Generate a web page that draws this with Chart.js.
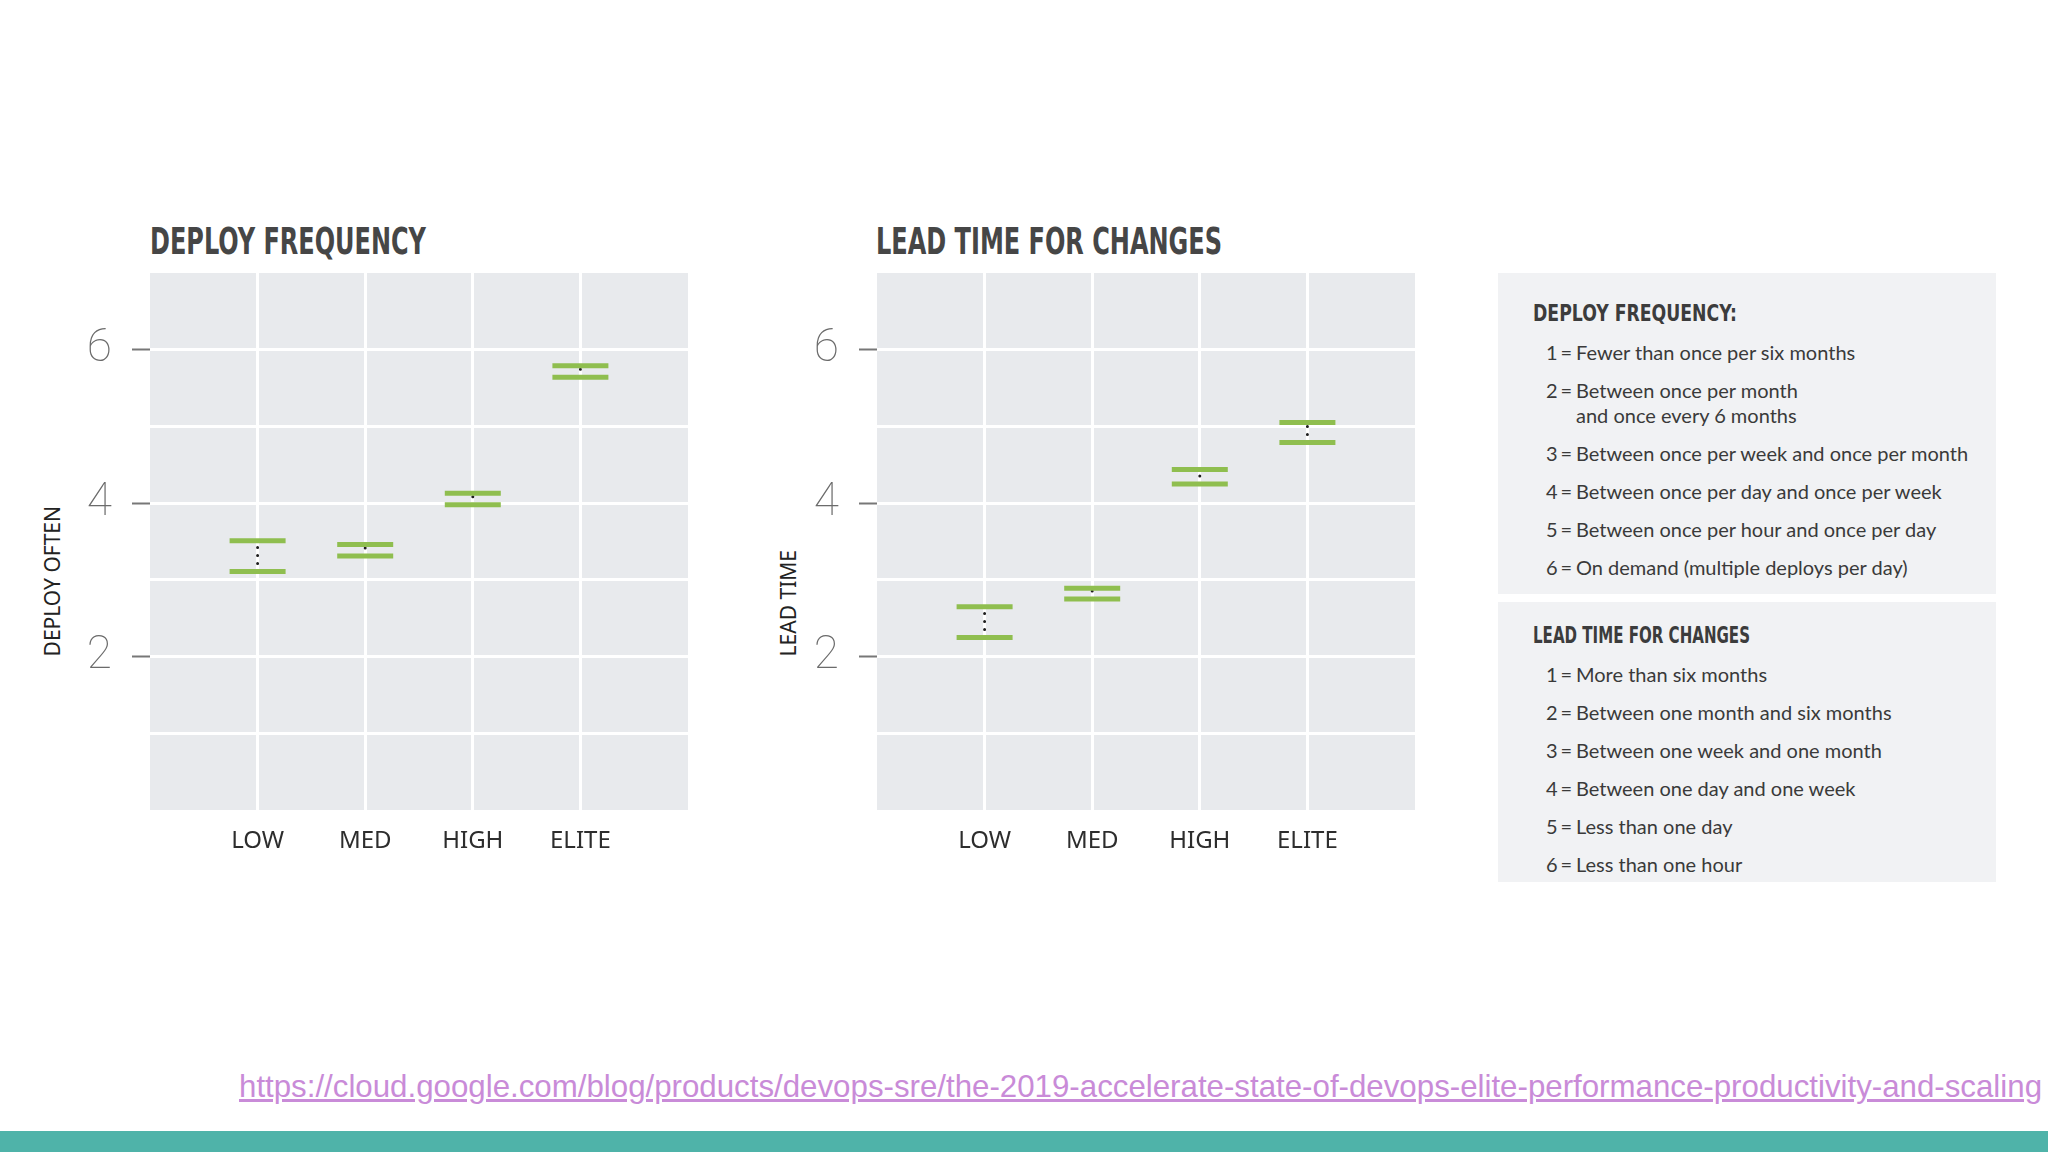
<!DOCTYPE html>
<html>
<head>
<meta charset="utf-8">
<script src="https://cdn.jsdelivr.net/npm/chart.js@4"></script>
<style>
  body { margin: 0; width: 2048px; height: 1152px; background: #fff; position: relative; overflow: hidden; font-family: 'Lato', 'Noto Sans', sans-serif; }
  canvas { position: absolute; }
  .title { position: absolute; font-family: 'DejaVu Sans Condensed', 'DejaVu Sans', sans-serif; font-weight: bold; color: #464646; white-space: nowrap; transform-origin: left center; line-height: 1; }
  .axis-title { position: absolute; font-family: 'Noto Sans', sans-serif; font-size: 21px; color: #222; writing-mode: vertical-rl; transform: rotate(180deg); white-space: nowrap; line-height: 24px; }
  .box { position: absolute; left: 1498px; width: 498px; background: #f1f2f4; box-sizing: border-box; padding-left: 35px; }
  .box h3 { margin: 0; height: 30px; line-height: 30px; font-family: 'DejaVu Sans Condensed', sans-serif; font-weight: bold; font-size: 23px; color: #3c3c3c; white-space: nowrap; display: inline-block; transform-origin: left center; }
  .item { display: flex; margin-left: 13px; font-size: 20px; line-height: 25px; color: #3a3a3a; margin-top: 13px; }
  .item .num { width: 30px; flex: none; white-space: nowrap; }
  .item .num span { margin-left: 3px; }
  #url { position: absolute; left: 239px; top: 1067px; font-family: 'Liberation Sans', Arial, sans-serif; font-size: 32px; color: #c98bd8; text-decoration: underline; white-space: nowrap; line-height: 40px; }
  #band { position: absolute; left: 0; top: 1131px; width: 2048px; height: 21px; background: #4fb3a9; }
</style>
</head>
<body>
<div class="title" id="t1" style="left:150px; top:223px; font-size:37px;">DEPLOY FREQUENCY</div>
<div class="title" id="t2" style="left:876px; top:223px; font-size:37px;">LEAD TIME FOR CHANGES</div>
<div class="axis-title" style="left:40px; bottom:496px;">DEPLOY OFTEN</div>
<div class="axis-title" style="left:776px; bottom:496px;">LEAD TIME</div>
<canvas id="deployChart" width="700" height="620" style="left:0px; top:260px;"></canvas>
<canvas id="leadChart" width="700" height="620" style="left:727px; top:260px;"></canvas>
<div class="box" id="box1" style="top:273px; height:321px; padding-top:25px;"></div>
<div class="box" id="box2" style="top:602px; height:280px; padding-top:18px;"></div>
<div id="url">https://cloud.google.com/blog/products/devops-sre/the-2019-accelerate-state-of-devops-elite-performance-productivity-and-scaling</div>
<div id="band"></div>
<script>
// categories and interval bounds
const categories = ['LOW', 'MED', 'HIGH', 'ELITE'];
const deployLower = [3.11, 3.31, 3.98, 5.64];
const deployUpper = [3.51, 3.46, 4.13, 5.79];
const leadLower = [2.25, 2.75, 4.25, 4.79];
const leadUpper = [2.65, 2.89, 4.44, 5.05];
const yTickValues = [2, 4, 6];

const deployTitle = 'DEPLOY FREQUENCY:';
const deployKey = [
  'Fewer than once per six months',
  'Between once per month<br>and once every 6 months',
  'Between once per week and once per month',
  'Between once per day and once per week',
  'Between once per hour and once per day',
  'On demand (multiple deploys per day)'
];
const leadTitle = 'LEAD TIME FOR CHANGES';
const leadKey = [
  'More than six months',
  'Between one month and six months',
  'Between one week and one month',
  'Between one day and one week',
  'Less than one day',
  'Less than one hour'
];

const green = '#8fbe4f';

const plotBg = {
  id: 'plotBg',
  beforeDraw(chart) {
    const {ctx, chartArea: a} = chart;
    ctx.save();
    ctx.fillStyle = '#e8eaed';
    ctx.fillRect(a.left, a.top, a.width, a.height);
    ctx.restore();
  }
};

function makeChart(id, lower, upper) {
  let bars = [], whiskers = [];
  categories.forEach((c, i) => {
    bars.push({x: i + 1, y: lower[i]}, {x: i + 1, y: upper[i]});
    whiskers.push({x: i + 1, y: lower[i]}, {x: i + 1, y: upper[i]}, {x: i + 1.5, y: null});
  });
  return new Chart(document.getElementById(id), {
    type: 'scatter',
    data: {
      datasets: [{
        data: bars,
        pointStyle: 'line',
        pointRadius: 28,
        pointHoverRadius: 28,
        pointBorderWidth: 5,
        pointBorderColor: green,
        borderColor: green
      }, {
        data: whiskers,
        showLine: true,
        spanGaps: false,
        borderColor: '#1e1e1e',
        borderWidth: 3,
        borderDash: [0, 8],
        borderCapStyle: 'round',
        pointRadius: 0
      }]
    },
    options: {
      responsive: false,
      animation: false,
      layout: { autoPadding: false, padding: { top: 13, right: 12, left: 0, bottom: 0 } },
      plugins: { legend: { display: false }, tooltip: { enabled: false } },
      scales: {
        x: {
          type: 'linear', min: 0, max: 5,
          afterFit: s => { s.height = 70; s.paddingLeft = 0; s.paddingRight = 0; },
          border: { display: false },
          grid: {
            color: ctx => (ctx.tick && ctx.tick.value > 0 && ctx.tick.value < 5) ? '#ffffff' : 'rgba(0,0,0,0)',
            lineWidth: 3,
            drawTicks: false
          },
          ticks: {
            stepSize: 1,
            padding: 17,
            color: '#2d2d2d',
            font: { family: 'Noto Sans', size: 24 },
            callback: v => categories[v - 1] || ''
          }
        },
        y: {
          min: 0, max: 7,
          afterFit: s => { s.width = 150; s.paddingTop = 0; s.paddingBottom = 0; },
          border: { display: false },
          grid: {
            color: ctx => (ctx.tick && ctx.tick.value > 0 && ctx.tick.value < 7) ? '#ffffff' : 'rgba(0,0,0,0)',
            lineWidth: 3,
            tickLength: 18,
            tickWidth: 2,
            tickColor: ctx => (ctx.tick && yTickValues.includes(ctx.tick.value)) ? '#777' : 'rgba(0,0,0,0)'
          },
          ticks: {
            stepSize: 1,
            padding: 20,
            color: '#6b6b6b',
            font: { family: 'Roboto', size: 46, weight: 100 },
            callback: v => yTickValues.includes(v) ? String(v) : ''
          }
        }
      }
    },
    plugins: [plotBg]
  });
}

function fillBox(id, title, key) {
  const box = document.getElementById(id);
  let html = '<h3>' + title + '</h3>';
  key.forEach((t, i) => {
    html += '<div class="item"><span class="num">' + (i + 1) + '<span>=</span></span><span>' + t + '</span></div>';
  });
  box.innerHTML = html;
  box.querySelector('.item').style.marginTop = '12px';
}

function fitWidth(el, w) {
  const r = el.getBoundingClientRect().width;
  el.style.transform = 'scaleX(' + (w / r) + ')';
}

fillBox('box1', deployTitle, deployKey);
fillBox('box2', leadTitle, leadKey);

makeChart('deployChart', deployLower, deployUpper);
makeChart('leadChart', leadLower, leadUpper);

document.fonts.ready.then(() => {
  fitWidth(document.getElementById('t1'), 276);
  fitWidth(document.getElementById('t2'), 346);
  const hs = document.querySelectorAll('.box h3');
  fitWidth(hs[0], 204);
  fitWidth(hs[1], 217);
  const url = document.getElementById('url');
  url.style.fontSize = (32 * 1804 / url.getBoundingClientRect().width) + 'px';
});
</script>
</body>
</html>
